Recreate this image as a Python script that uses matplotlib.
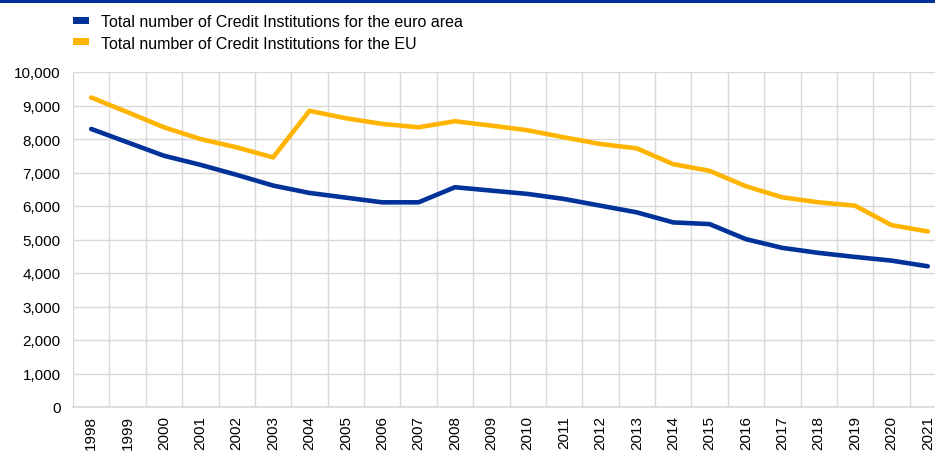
import matplotlib
matplotlib.use("Agg")
import matplotlib.pyplot as plt
from matplotlib.patches import Patch
from matplotlib.lines import Line2D
from matplotlib.ticker import FuncFormatter, MultipleLocator, FixedLocator

plt.rcParams['font.family'] = ['Liberation Sans', 'DejaVu Sans']

years = [str(y) for y in range(1998, 2022)]
euro_area = [8300, 7900, 7500, 7230, 6930, 6610, 6390, 6250, 6110, 6110, 6560, 6460,
             6360, 6210, 6010, 5810, 5510, 5460, 5010, 4750, 4600, 4480, 4370, 4200]
eu = [9240, 8800, 8350, 8000, 7750, 7450, 8840, 8620, 8450, 8350, 8530, 8400,
      8260, 8050, 7850, 7720, 7250, 7050, 6590, 6260, 6110, 6010, 5430, 5240]
labels = ["Total number of Credit Institutions for the euro area",
          "Total number of Credit Institutions for the EU"]
colors = ["#003299", "#FFB400"]

W, H = 935, 452
fig = plt.figure(figsize=(W / 100, H / 100), dpi=100)
ax = fig.add_axes([73 / W, 1 - 408 / H, (946 - 73) / W, (408 - 73) / H])

x = list(range(len(years)))
for vals, c, lab in zip([euro_area, eu], colors, labels):
    ax.plot(x, vals, color=c, lw=3.3, solid_capstyle='round', solid_joinstyle='round', zorder=3)

ax.set_xlim(-0.5, len(years) - 0.5)
ax.set_ylim(0, 10000)
ax.yaxis.set_major_locator(MultipleLocator(1000))
ax.yaxis.set_major_formatter(FuncFormatter(lambda v, p: f"{int(v):,}"))
ax.set_xticks(x)
ax.set_xticklabels(years, rotation=90, fontsize=11, color="#000000")
ax.xaxis.set_minor_locator(FixedLocator([i - 0.5 for i in range(len(years) + 1)]))
ax.tick_params(axis='x', which='both', length=0, pad=6)
ax.tick_params(axis='y', length=0, labelsize=11, pad=9)
ax.grid(True, which='major', axis='y', color="#d9d9d9", lw=1)
ax.grid(True, which='minor', axis='x', color="#d9d9d9", lw=1)
for s in ['top', 'right', 'left']:
    ax.spines[s].set_visible(False)
ax.spines['bottom'].set_color("#d9d9d9")
ax.spines['bottom'].set_linewidth(1.2)
ax.set_axisbelow(True)

handles = [Patch(facecolor=c, edgecolor='none') for c in colors]
fig.legend(handles, labels, loc='upper left', bbox_to_anchor=(72.7 / W, 1 - 15 / H),
           frameon=False, fontsize=11.5, handlelength=1.04, handleheight=0.31,
           handletextpad=0.71, labelspacing=0.41, borderaxespad=0, borderpad=0)

fig.add_artist(Line2D([0, 1], [1 - 1.5 / H, 1 - 1.5 / H], transform=fig.transFigure,
                      color="#003299", lw=2.2))

fig.savefig("out.png", dpi=100)
